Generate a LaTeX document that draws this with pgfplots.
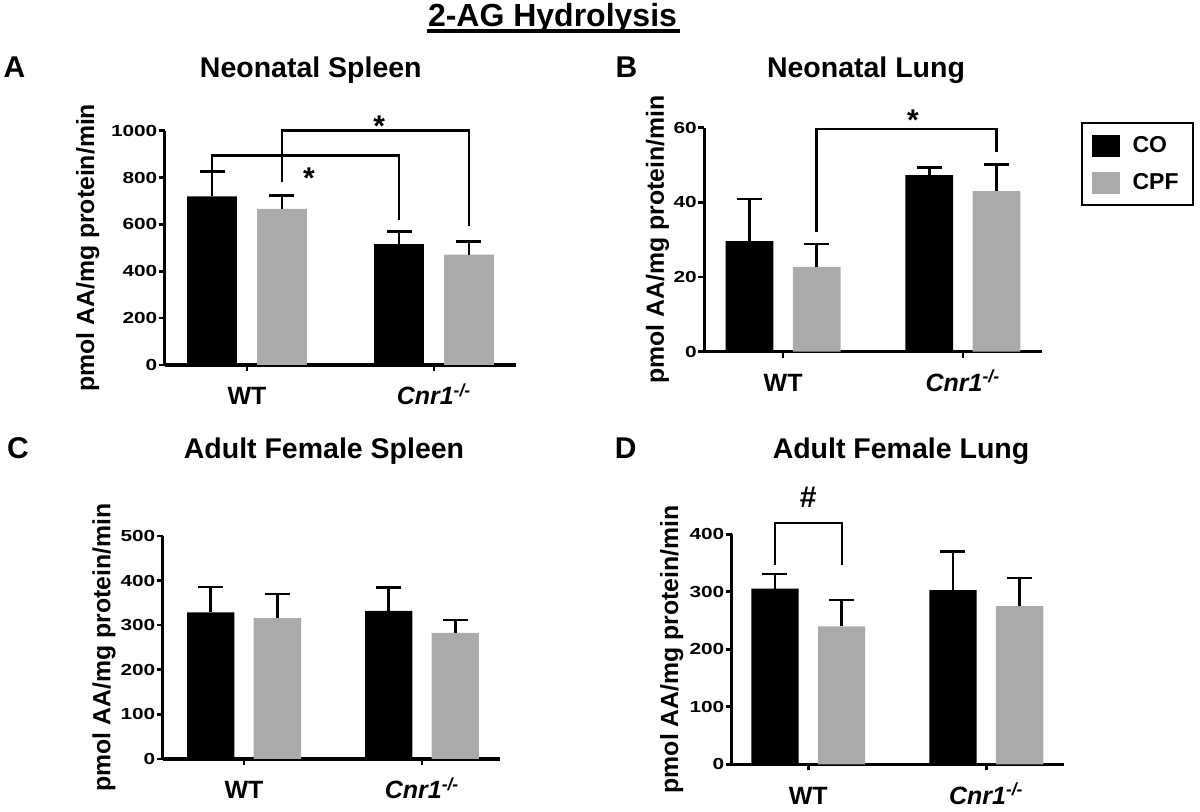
\documentclass[border=0pt]{standalone}
\usepackage{fontspec}
\setmainfont{Liberation Sans}
\usepackage{graphicx}
\usepackage{pgfplots}
\pgfplotsset{compat=1.18}
\definecolor{cpfgray}{RGB}{170,170,170}
\pgfplotsset{
  panel/.style={
    scale only axis,
    anchor=south west,
    axis x line*=bottom,
    axis y line*=left,
    axis line style={line width=1.6pt},
    ybar, bar shift=0pt, bar width=0.266,
    enlargelimits=false,
    ymin=0,
    xtick={0,1},
    xticklabels={WT,{\textit{Cnr1}\textsuperscript{\textit{-/-}}}},
    tick align=outside,
    major tick length=3pt,
    every tick/.style={black, line width=1.3pt},
    xticklabel style={font=\bfseries\fontsize{12.5}{14}\selectfont, anchor=base, yshift=-17pt},
    yticklabel style={font=\bfseries\fontsize{8}{9}\selectfont, anchor=east, inner sep=0.5pt},
    yticklabel={\scalebox{1.3}[1]{\pgfmathprintnumber[assume math mode=true,1000 sep={}]{\tick}}},
    ylabel={pmol AA/mg protein/min},
    clip=false,
  },
  ylab/.style={every axis y label/.style={at={([xshift=#1]axis description cs:0,0.5)}, rotate=90, anchor=center, font=\bfseries\fontsize{12.4}{14}\selectfont}},
  errs/.style={error bars/.cd, y dir=plus, y explicit,
    error bar style={draw=black, line width=1.3pt},
    error mark options={rotate=90, draw=black, mark size=6.25pt, line width=1.3pt}},
  co/.style={fill=black, draw=none, errs,
    /pgfplots/legend image code/.code={\fill[black] (0pt,-5.5pt) rectangle (13.8pt,5.5pt);}},
  cpf/.style={fill=cpfgray, draw=none, errs,
    /pgfplots/legend image code/.code={\fill[cpfgray] (0pt,-5.5pt) rectangle (13.8pt,5.5pt);}},
}
\tikzset{
  starnode/.style={font=\bfseries\fontsize{15}{15}\selectfont, inner sep=0pt, anchor=center, yshift=-3.2pt},
  bracket/.style={line width=1.3pt, black},
}
\begin{document}
\begin{tikzpicture}
\path[use as bounding box] (0pt,0pt) rectangle (600pt,406pt);

% main title
\node[anchor=base, inner sep=0pt, font=\bfseries\fontsize{16}{18}\selectfont] (T) at (276.25pt,392.65pt) {2-AG Hydrolysis};
\draw[line width=1.7pt] ([yshift=-2.2pt,xshift=-0.5pt]T.base west) -- ([yshift=-2.2pt,xshift=1.5pt]T.base east);

% panel letters and titles
\begin{scope}[every node/.style={inner sep=0pt, anchor=base, font=\bfseries\fontsize{14.25}{16}\selectfont}]
\node[anchor=base west, font=\bfseries\fontsize{15}{16}\selectfont] at (1.65pt,367pt) {A};
\node[anchor=base west, font=\bfseries\fontsize{15}{16}\selectfont] at (307.6pt,367pt) {B};
\node[anchor=base west, font=\bfseries\fontsize{15}{16}\selectfont] at (3.4pt,176.5pt) {C};
\node[anchor=base west, font=\bfseries\fontsize{15}{16}\selectfont] at (307.2pt,176.5pt) {D};
\node at (155.4pt,367pt) {Neonatal Spleen};
\node at (433pt,367pt) {Neonatal Lung};
\node at (162pt,176.5pt) {Adult Female Spleen};
\node at (450.5pt,176.5pt) {Adult Female Lung};
\end{scope}

% A: Neonatal Spleen
\begin{axis}[panel, ylab=-38.5pt, at={(82.35pt,223.5pt)}, width=175.8pt, height=117.15pt,
  xmin=-0.44, xmax=1.44, ymax=1000, ytick={0,200,400,600,800,1000}]
\addplot[co] coordinates {(-0.187,720) +- (0,106) (0.813,516) +- (0,53)};
\addplot[cpf] coordinates {(0.187,666) +- (0,58) (1.187,471) +- (0,55)};
\draw[bracket] (axis cs:-0.187,832) |- (axis cs:0.813,893) -- (axis cs:0.813,619);
\draw[bracket] (axis cs:0.187,782) |- (axis cs:1.187,1000) -- (axis cs:1.187,593);
\node[starnode] at (axis cs:0.707,1046) {*};
\node[starnode] at (axis cs:0.331,825) {*};
\end{axis}

% B: Neonatal Lung
\begin{axis}[panel, ylab=-23.25pt, at={(352.05pt,230.15pt)}, width=168.9pt, height=112pt,
  xmin=-0.44, xmax=1.44, ymax=60, ytick={0,20,40,60},
  legend style={at={(axis description cs:1.1157,1.0254)}, anchor=north west, draw=black, line width=1pt,
    font=\bfseries\fontsize{11.5}{13}\selectfont, legend cell align=left, row sep=5pt, column sep=4.5pt,
    inner xsep=5pt, inner ysep=4.5pt}]
\addplot[co] coordinates {(-0.187,29.6) +- (0,11.3) (0.813,47.3) +- (0,2.0)};
\addlegendentry{CO}
\addplot[cpf] coordinates {(0.187,22.7) +- (0,6.1) (1.187,43.0) +- (0,7.1)};
\addlegendentry{CPF}
\draw[bracket] (axis cs:0.187,32.1) |- (axis cs:1.187,59.6) -- (axis cs:1.187,53.6);
\node[starnode] at (axis cs:0.722,63.7) {*};
\end{axis}

% C: Adult Female Spleen
\begin{axis}[panel, ylab=-29.35pt, at={(81.35pt,26.5pt)}, width=168.65pt, height=111.5pt,
  xmin=-0.457, xmax=1.438, ymax=500, ytick={0,100,200,300,400,500}]
\addplot[co] coordinates {(-0.187,329) +- (0,57) (0.813,332) +- (0,53)};
\addplot[cpf] coordinates {(0.187,316) +- (0,54) (1.187,283) +- (0,29)};
\end{axis}

% D: Adult Female Lung
\begin{axis}[panel, ylab=-30pt, at={(365.85pt,23.85pt)}, width=166.1pt, height=115pt,
  xmin=-0.43, xmax=1.436, ymax=400, ytick={0,100,200,300,400}]
\addplot[co] coordinates {(-0.187,305.5) +- (0,25.5) (0.813,303) +- (0,67)};
\addplot[cpf] coordinates {(0.187,240) +- (0,46) (1.187,275) +- (0,49)};
\draw[line width=1pt] (axis cs:-0.187,347) |- (axis cs:0.187,419) -- (axis cs:0.187,347);
\node[font=\bfseries\fontsize{15}{15}\selectfont, inner sep=0pt] at (axis cs:0,465) {\#};
\end{axis}
\end{tikzpicture}
\end{document}
